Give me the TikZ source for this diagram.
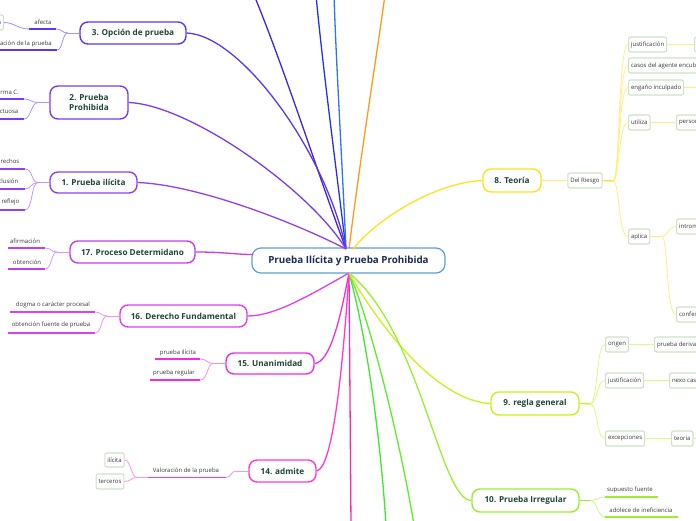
\documentclass[tikz,border=0pt]{standalone}
\usepackage{fontspec}
\setmainfont{Open Sans}
\definecolor{labc}{HTML}{1E4634}
\definecolor{cent}{HTML}{1A2B55}
\definecolor{cc}{HTML}{5AA0D8}
\definecolor{subg}{HTML}{CFE2C8}
\definecolor{subt}{HTML}{3A3A3A}
\definecolor{t1}{HTML}{4422E6}
\definecolor{t2}{HTML}{2233F0}
\definecolor{t3}{HTML}{3070FF}
\definecolor{org}{HTML}{FF9A1C}
\definecolor{c3}{HTML}{5E36F0}
\definecolor{c2}{HTML}{7A3CF2}
\definecolor{c1}{HTML}{9440EE}
\definecolor{c17}{HTML}{C23EF0}
\definecolor{c16}{HTML}{DD40EE}
\definecolor{c15}{HTML}{F02EE0}
\definecolor{c14}{HTML}{FF3AD4}
\definecolor{pk}{HTML}{FF2AA0}
\definecolor{g1}{HTML}{3EE82A}
\definecolor{g2}{HTML}{5CEE2A}
\definecolor{c10}{HTML}{9AF02E}
\definecolor{c9}{HTML}{CCF01E}
\definecolor{c8}{HTML}{FFE21E}
\begin{document}
\begin{tikzpicture}[x=1pt,y=-1pt,
  main/.style={draw, rounded corners=8pt, line width=1.4pt, fill=white, inner sep=0pt,
    font=\bfseries\fontsize{8.2}{9.6}\selectfont, text=labc, align=center},
  sub/.style={draw=subg, rounded corners=2pt, line width=1.1pt, fill=white, inner xsep=2.5pt,
    inner ysep=0pt, minimum height=15pt, font=\fontsize{6}{7}\selectfont, text=subt},
  lab/.style={font=\fontsize{6}{7}\selectfont, text=subt, inner sep=1pt},
  br/.style={line width=1.3pt},
  sl/.style={line width=0.8pt},
  ul/.style={line width=1.8pt},
]
\useasboundingbox (0,0) rectangle (696,520);
\clip (0,0) rectangle (696,520);

% ---------- centre anchors and off-picture ends ----------
\coordinate (Ct) at (346,249);
\coordinate (Cto) at (349,249);
\coordinate (Cty) at (353,249.5);
\coordinate (Cw) at (253,254.5);
\coordinate (Cb) at (349,273);
\coordinate (Top1) at (254,-5);
\coordinate (Top2) at (316,-5);
\coordinate (Top3) at (334,-5);
\coordinate (Top4) at (385,-5);
\coordinate (Bot1) at (351,525);
\coordinate (Bot2) at (386,525);
\coordinate (Bot3) at (414,525);

% ---------- main connectors ----------
\draw[br, t1] (Ct) .. controls (320,180) and (285,70) .. (Top1);
\draw[br, t2] (Ct) .. controls (335,160) and (322,60) .. (Top2);
\draw[br, t3] (Ct) .. controls (342,160) and (336,60) .. (Top3);
\draw[br, org] (Cto) .. controls (360,160) and (376,60) .. (Top4);
\draw[br, pk] (Cb) -- (Bot1);
\draw[br, g1] (Cb) .. controls (365,330) and (380,430) .. (Bot2);
\draw[br, g2] (Cb) .. controls (370,320) and (400,440) .. (Bot3);

% ---------- nodes ----------
\node[main, draw=cc, minimum width=193pt, minimum height=25pt, rounded corners=9pt, line width=1.2pt,
  font=\bfseries\fontsize{9.8}{11}\selectfont, text=cent] (C) at (348.5,260.5) {Prueba Ilícita y Prueba Prohibida};

\node[main, draw=c3, minimum width=106pt, minimum height=22pt] (n3) at (133,33) {3. Opción de prueba};
\node[main, draw=c2, minimum width=78pt, minimum height=33pt] (n2) at (89,102.5) {2. Prueba\\Prohibida};
\node[main, draw=c1, minimum width=87pt, minimum height=21pt] (n1) at (93.5,182.5) {1. Prueba ilícita};
\node[main, draw=c17, minimum width=125pt, minimum height=22pt] (n17) at (132.5,252) {17. Proceso Determidano};
\node[main, draw=c16, minimum width=127pt, minimum height=22pt] (n16) at (183.5,316) {16. Derecho Fundamental};
\node[main, draw=c15, minimum width=88pt, minimum height=21pt] (n15) at (270,363.5) {15. Unanimidad};
\node[main, draw=c14, minimum width=67pt, minimum height=22pt] (n14) at (282.5,471) {14. admite};
\node[main, draw=c8, minimum width=58pt, minimum height=23pt] (n8) at (512,180.5) {8. Teoría};
\node[main, draw=c9, minimum width=88pt, minimum height=23pt] (n9) at (535,403.5) {9. regla general};
\node[main, draw=c10, minimum width=107pt, minimum height=23pt] (n10) at (525.5,500.5) {10. Prueba Irregular};

% ---------- centre to main nodes ----------
\draw[br, c3] (Ct) .. controls (325,150) and (240,35) .. (n3.east);
\draw[br, c2] (Ct) .. controls (310,190) and (190,105) .. (n2.east);
\draw[br, c1] (Ct) .. controls (300,225) and (200,185) .. (n1.east);
\draw[br, c17] (n17.east) .. controls (225,252) and (235,254.5) .. (Cw);
\draw[br, c16] (Cb) .. controls (310,295) and (275,316) .. (n16.east);
\draw[br, c15] (Cb) .. controls (340,320) and (330,362) .. (n15.east);
\draw[br, c14] (Cb) .. controls (342,380) and (332,468) .. (n14.east);
\draw[br, c8] (Cty) .. controls (370,225) and (430,183) .. (n8.west);
\draw[br, c9] (Cb) .. controls (370,310) and (430,400) .. (n9.west);
\draw[br, c10] (Cb) .. controls (420,330) and (440,500) .. (n10.west);

% ---------- 3. Opción de prueba ----------
\coordinate (s3) at (68,33);
\coordinate (u3aL) at (29,29); \coordinate (u3aR) at (56,29);
\coordinate (u3bL) at (-2,50); \coordinate (u3bR) at (57,50);
\node[lab] (t3a) at (43,22) {afecta};
\node[lab, anchor=east] (t3b) at (53,43.5) {ación de la prueba};
\node[sub, anchor=east, minimum height=15pt] (b3) at (4,22.5) {n};
\draw[ul, c3] (u3aL) -- (u3aR);
\draw[ul, c3] (u3bL) -- (u3bR);
\draw[sl, c3!55] (n3.west) -- (s3);
\draw[sl, c3!55] (s3) .. controls (62,33) and (62,29) .. (u3aR);
\draw[sl, c3!55] (s3) .. controls (62,33) and (63,50) .. (u3bR);
\draw[sl, c3!55] (u3aL) .. controls (18,29) and (14,22.5) .. (b3.east);

% ---------- 2. Prueba Prohibida ----------
\coordinate (s2) at (38,102.5);
\coordinate (u2aL) at (-2,99); \coordinate (u2aR) at (24,99);
\coordinate (u2bL) at (-2,119); \coordinate (u2bR) at (24,119);
\node[lab, anchor=east] (t2a) at (20,92) {rma C.};
\node[lab, anchor=east] (t2b) at (19.5,112) {ctuosa};
\draw[ul, c2] (u2aL) -- (u2aR);
\draw[ul, c2] (u2bL) -- (u2bR);
\draw[sl, c2!55] (n2.west) -- (s2);
\draw[sl, c2!55] (s2) .. controls (31,102.5) and (31,99) .. (u2aR);
\draw[sl, c2!55] (s2) .. controls (31,102.5) and (31,119) .. (u2bR);

% ---------- 1. Prueba ilícita ----------
\coordinate (s1) at (38,182.5);
\coordinate (u1aL) at (-2,169); \coordinate (u1aR) at (25,169);
\coordinate (u1bL) at (-2,189); \coordinate (u1bR) at (25,189);
\coordinate (u1cL) at (-2,210); \coordinate (u1cR) at (25,210);
\node[lab, anchor=east] (t1a) at (20.5,161) {rechos};
\node[lab, anchor=east] (t1b) at (19.5,181) {clusión};
\node[lab, anchor=east] (t1c) at (20.5,202) {e reflejo};
\draw[ul, c1] (u1aL) -- (u1aR);
\draw[ul, c1] (u1bL) -- (u1bR);
\draw[ul, c1] (u1cL) -- (u1cR);
\draw[sl, c1!55] (n1.west) -- (s1);
\draw[sl, c1!55] (s1) .. controls (31,182.5) and (33,169) .. (u1aR);
\draw[sl, c1!55] (s1) .. controls (31,182.5) and (31,189) .. (u1bR);
\draw[sl, c1!55] (s1) .. controls (31,182.5) and (33,210) .. (u1cR);

% ---------- 17. Proceso Determidano ----------
\coordinate (s17) at (57,252);
\coordinate (u17aL) at (8,248); \coordinate (u17aR) at (45,248);
\coordinate (u17bL) at (8,269); \coordinate (u17bR) at (45,269);
\node[lab] (t17a) at (25,241) {afirmación};
\node[lab] (t17b) at (27,262) {obtención};
\draw[ul, c17] (u17aL) -- (u17aR);
\draw[ul, c17] (u17bL) -- (u17bR);
\draw[sl, c17!55] (n17.west) -- (s17);
\draw[sl, c17!55] (s17) .. controls (51,252) and (51,248) .. (u17aR);
\draw[sl, c17!55] (s17) .. controls (51,252) and (52,269) .. (u17bR);

% ---------- 16. Derecho Fundamental ----------
\coordinate (s16) at (107,316);
\coordinate (u16aL) at (10,312); \coordinate (u16aR) at (95,312);
\coordinate (u16bL) at (8,333); \coordinate (u16bR) at (95,333);
\node[lab] (t16a) at (53,304.5) {dogma o carácter procesal};
\node[lab] (t16b) at (51,325) {obtención fuente de prueba};
\draw[ul, c16] (u16aL) -- (u16aR);
\draw[ul, c16] (u16bL) -- (u16bR);
\draw[sl, c16!55] (n16.west) -- (s16);
\draw[sl, c16!55] (s16) .. controls (101,316) and (101,312) .. (u16aR);
\draw[sl, c16!55] (s16) .. controls (101,316) and (102,333) .. (u16bR);

% ---------- 15. Unanimidad ----------
\coordinate (s15) at (213,363.5);
\coordinate (u15aL) at (155,359); \coordinate (u15aR) at (200,359);
\coordinate (u15bL) at (150,380); \coordinate (u15bR) at (200,380);
\node[lab] (t15a) at (178,352.5) {prueba ilícita};
\node[lab] (t15b) at (174,373) {prueba regular};
\draw[ul, c15] (u15aL) -- (u15aR);
\draw[ul, c15] (u15bL) -- (u15bR);
\draw[sl, c15!55] (n15.west) -- (s15);
\draw[sl, c15!55] (s15) .. controls (207,363.5) and (207,359) .. (u15aR);
\draw[sl, c15!55] (s15) .. controls (207,363.5) and (208,380) .. (u15bR);

% ---------- 14. admite ----------
\coordinate (s14) at (236,471);
\coordinate (u14L) at (148,477.5); \coordinate (u14R) at (226,477.5);
\coordinate (j14) at (137,477.5);
\node[lab] (t14) at (186,470.5) {Valoración de la prueba};
\node[sub, minimum height=14pt] (b14a) at (114.5,460) {ilícita};
\node[sub, minimum height=15pt] (b14b) at (110,481.5) {terceros};
\draw[ul, c14] (u14L) -- (u14R);
\draw[sl, c14!55] (n14.west) -- (s14);
\draw[sl, c14!55] (s14) .. controls (231,471) and (231,477.5) .. (u14R);
\draw[sl, c14!55] (u14L) -- (j14);
\draw[sl, c14!55] (j14) .. controls (131,477.5) and (131,460) .. (b14a.east);
\draw[sl, c14!55] (j14) .. controls (131,477.5) and (131,481.5) .. (b14b.east);

% ---------- 8. Teoría ----------
\node[sub] (dr) at (585,180.5) {Del Riesgo};
\coordinate (s8) at (613,181);
\node[sub, anchor=west] (just8) at (628,44.5) {justificación};
\node[sub, anchor=west] (cbox) at (694,44.5) {c};
\node[sub, anchor=west] (casos) at (628,65.5) {casos del agente encub};
\node[sub, anchor=west] (eng) at (628,87.5) {engaño inculpado};
\coordinate (engR) at (697,87.5);
\node[sub, anchor=west] (util) at (628,122.5) {utiliza};
\node[sub, anchor=west] (pers) at (676,122.5) {person};
\node[sub, anchor=west] (apl) at (628,236.5) {aplica};
\coordinate (sapl) at (662,236.5);
\node[sub, anchor=west] (intr) at (676,226.5) {introm};
\node[sub, anchor=west] (conf) at (676,314.5) {confes};
\draw[sl, c8!60] (n8.east) -- (dr.west);
\draw[br, c8] (dr.east) -- (s8);
\draw[sl, c8!55] (s8) .. controls (620,181) and (618,44.5) .. (just8.west);
\draw[sl, c8!55] (s8) .. controls (620,181) and (618,65.5) .. (casos.west);
\draw[sl, c8!55] (s8) .. controls (620,181) and (618,87.5) .. (eng.west);
\draw[sl, c8!55] (s8) .. controls (620,181) and (618,122.5) .. (util.west);
\draw[sl, c8!55] (s8) .. controls (620,181) and (618,236.5) .. (apl.west);
\draw[sl, c8!55] (just8.east) -- (cbox.west);
\draw[sl, c8!55] (eng.east) -- (engR);
\draw[sl, c8!55] (util.east) -- (pers.west);
\draw[sl, c8!55] (apl.east) -- (sapl);
\draw[sl, c8!55] (sapl) .. controls (668,236.5) and (668,226.5) .. (intr.west);
\draw[sl, c8!55] (sapl) .. controls (668,236.5) and (666,314.5) .. (conf.west);

% ---------- 9. regla general ----------
\coordinate (s9) at (590,404);
\node[sub, anchor=west] (orig) at (605,344.5) {origen};
\node[sub, anchor=west] (pder) at (654,344.5) {prueba deriva};
\node[sub, anchor=west] (just9) at (605,380.5) {justificación};
\node[sub, anchor=west] (nexo) at (669,380.5) {nexo cas};
\node[sub, anchor=west] (exc) at (605,438.5) {excepciones};
\node[sub, anchor=west] (teo) at (671,438.5) {teoria};
\coordinate (teoR) at (697,438.5);
\draw[br, c9] (n9.east) -- (s9);
\draw[sl, c9!55] (s9) .. controls (598,404) and (596,344.5) .. (orig.west);
\draw[sl, c9!55] (s9) .. controls (598,404) and (596,380.5) .. (just9.west);
\draw[sl, c9!55] (s9) .. controls (598,404) and (596,438.5) .. (exc.west);
\draw[sl, c9!55] (orig.east) -- (pder.west);
\draw[sl, c9!55] (just9.east) -- (nexo.west);
\draw[sl, c9!55] (exc.east) -- (teo.west);
\draw[sl, c9!55] (teo.east) -- (teoR);

% ---------- 10. Prueba Irregular ----------
\coordinate (s10) at (590,500.5);
\coordinate (u10aL) at (605,497); \coordinate (u10aR) at (658,497);
\coordinate (u10bL) at (605,517); \coordinate (u10bR) at (678,517);
\node[lab] (t10a) at (630,490) {supuesto fuente};
\node[lab] (t10b) at (641,510) {adolece de ineficiencia};
\draw[ul, c10] (u10aL) -- (u10aR);
\draw[ul, c10] (u10bL) -- (u10bR);
\draw[br, c10] (n10.east) -- (s10);
\draw[sl, c10!55] (s10) .. controls (597,500.5) and (597,497) .. (u10aL);
\draw[sl, c10!55] (s10) .. controls (597,500.5) and (598,517) .. (u10bL);
\end{tikzpicture}
\end{document}
